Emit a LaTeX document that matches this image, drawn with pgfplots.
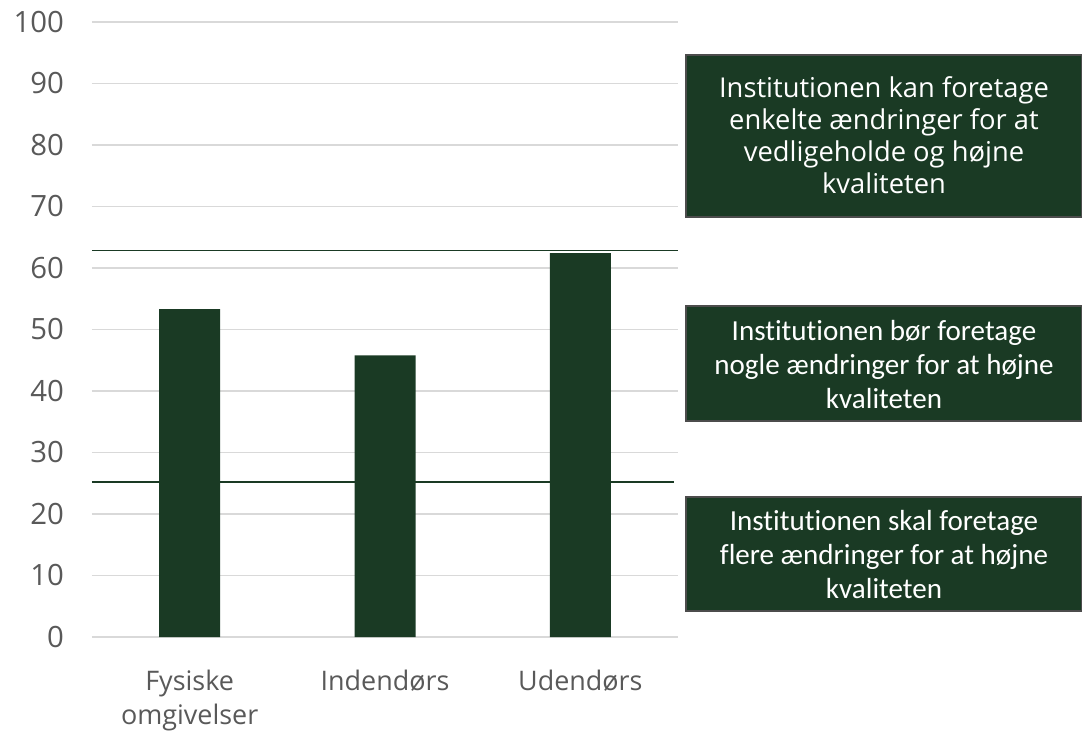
\documentclass[border=0pt]{standalone}
\usepackage{pgfplots}
\pgfplotsset{compat=1.18}
\usepackage{fontspec}
\setmainfont{Open Sans}
\newfontfamily\boxfont[Ligatures=NoCommon]{Carlito}
\definecolor{dgreen}{RGB}{26,58,36}
\definecolor{tickgray}{RGB}{89,89,89}
\definecolor{gridgray}{RGB}{217,217,217}
\begin{document}
\begin{tikzpicture}
\path[use as bounding box] (0pt,0pt) rectangle (811.5pt,549.75pt);
\begin{axis}[
  at={(69pt,72pt)}, anchor=south west,
  scale only axis, width=439.5pt, height=461.25pt,
  xmin=-0.5, xmax=2.5, ymin=0, ymax=100,
  axis line style={draw=none},
  ymajorgrids, grid style={gridgray, line width=1pt},
  major tick length=0pt,
  ytick={0,10,...,100},
  xtick={0,1,2},
  xticklabels={{Fysiske\\omgivelser},Indendørs,Udendørs},
  tick label style={text=tickgray},
  xticklabel style={font=\fontsize{20.2}{26}\selectfont, align=center, yshift=-21pt},
  yticklabel style={font=\fontsize{22}{27}\selectfont, xshift=-17.5pt},
  /pgf/number format/assume math mode=true,
  clip=false,
]
\addplot[ybar, bar width=45.75pt, fill=dgreen, draw=none] coordinates {(0,53.3) (1,45.8) (2,62.4)};
\addplot[dgreen, line width=1pt] coordinates {(-0.5,62.85) (2.5,62.85)};
\addplot[dgreen, line width=1pt] coordinates {(-0.5,25.2) (2.48,25.2)};
\end{axis}
\tikzset{gbox/.style={fill=dgreen, draw=black!70, line width=0.8pt}}
\draw[gbox] (514.5pt,387pt) rectangle (811.5pt,508.5pt);
\node[text=white, align=center, font=\fontsize{20.5}{24}\selectfont] at (663pt,448.5pt) {Institutionen kan foretage\\enkelte ændringer for at\\vedligeholde og højne\\kvaliteten};
\draw[gbox] (514.5pt,234pt) rectangle (811.5pt,320.25pt);
\node[text=white, align=center, font=\boxfont\fontsize{21.8}{25.5}\selectfont] at (663pt,276pt) {Institutionen bør foretage\\nogle ændringer for at højne\\kvaliteten};
\draw[gbox] (514.5pt,91.5pt) rectangle (811.5pt,177pt);
\node[text=white, align=center, font=\boxfont\fontsize{21.8}{25.5}\selectfont] at (663pt,134pt) {Institutionen skal foretage\\flere ændringer for at højne\\kvaliteten};
\end{tikzpicture}
\end{document}
